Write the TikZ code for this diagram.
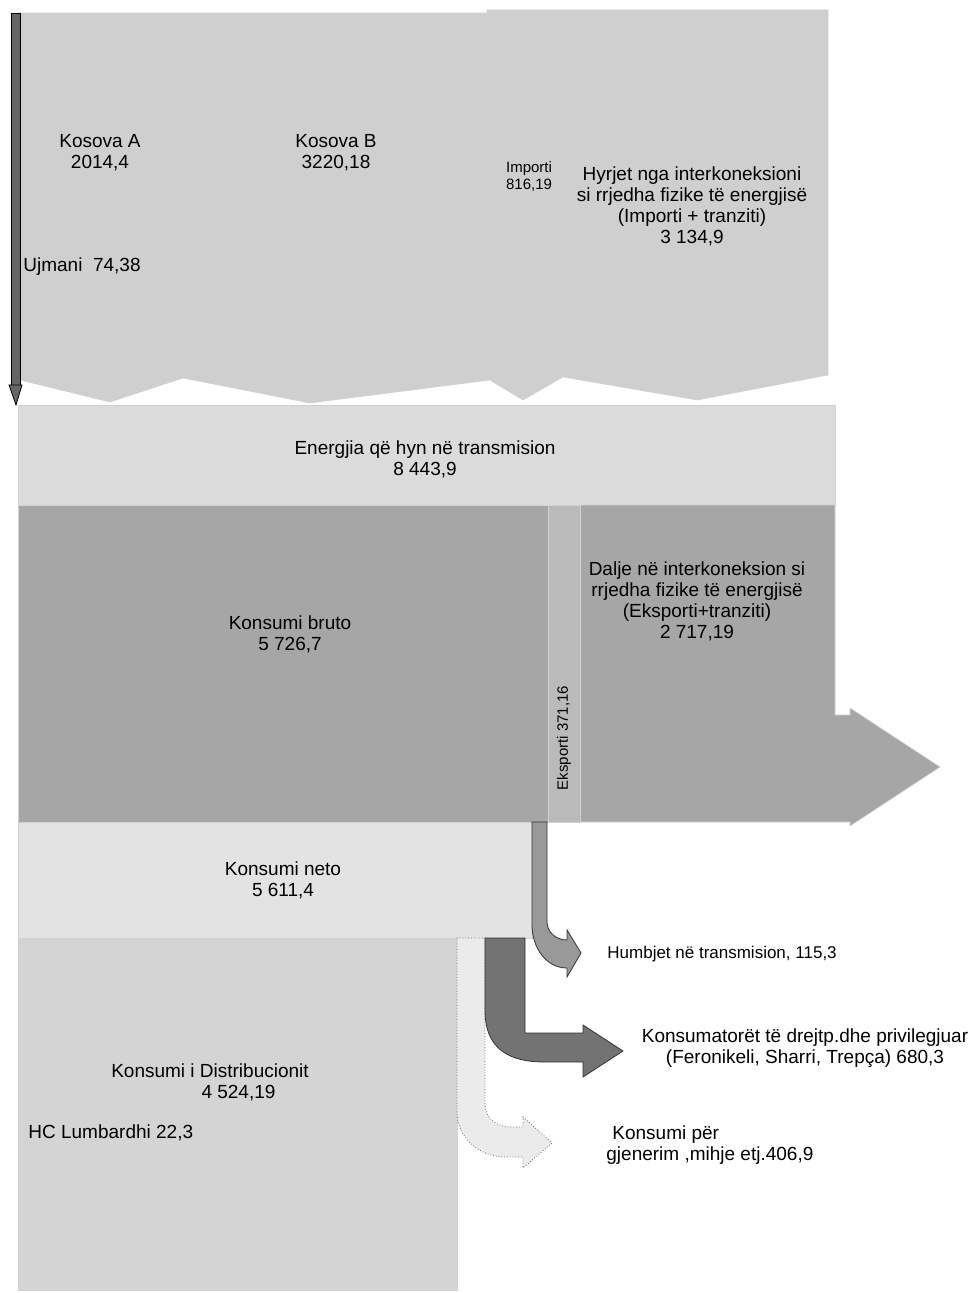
\documentclass[tikz,border=0pt]{standalone}
\usepackage{fontspec}
\setmainfont{Liberation Sans}
\definecolor{srcgray}{gray}{0.81}
\definecolor{trgray}{gray}{0.86}
\definecolor{brutogray}{gray}{0.65}
\definecolor{eksgray}{gray}{0.73}
\definecolor{netogray}{gray}{0.89}
\definecolor{distgray}{gray}{0.83}
\tikzset{
  band/.style={fill=#1, draw=black!18, line width=0.3pt},
  bent/.style={fill=#1, draw=black!80, line width=0.4pt},
  lbl/.style={font=\fontsize{9.5}{10.5}\selectfont, align=center, inner sep=0pt},
  smalllbl/.style={font=\fontsize{7.5}{8.5}\selectfont, align=center, inner sep=0pt},
}
\begin{document}
\begin{tikzpicture}[x=0.5pt,y=-0.5pt]
  \useasboundingbox (0,0) rectangle (975,1293);

  % sources: Kosova A, Kosova B
  \fill[band=srcgray] (18,13) -- (490,13) -- (490,380) -- (310,403) -- (183,378)
      -- (110,402) -- (20,380) -- cycle;
  \draw[black!18, line width=0.3pt] (183,13) -- (183,378);
  % Ujmani
  \fill[fill=black!60, draw=black] (11,13) rectangle (20,385);
  \fill[fill=black!60, draw=black] (9,385) -- (22,385) -- (16,405) -- cycle;
  % interconnection in
  \fill[band=srcgray] (487,10) -- (828,10) -- (828,375) -- (697,400) -- (563,377)
      -- (523,400) -- (485,377) -- cycle;
  \draw[black!18, line width=0.3pt] (563,10) -- (563,377);

  % transmission
  \fill[band=trgray] (18,405) rectangle (835,505);
  \fill[band=brutogray] (18,505) rectangle (548,822);
  \fill[band=brutogray] (580,505) -- (835,505) -- (835,715) -- (850,715) -- (850,708)
      -- (940,767) -- (850,826) -- (850,822) -- (580,822) -- cycle;
  \fill[band=eksgray] (548,505) rectangle (580,822);

  % net and distribution
  \fill[band=netogray] (18,822) rectangle (532,938);
  \fill[band=distgray] (18,938) rectangle (457,1290);

  % losses
  \fill[bent=black!40] (532,822) -- (547,822) -- (547,922) to[out=-90,in=180] (567,940)
      -- (567,930) -- (581,953) -- (567,977) -- (567,968) to[out=180,in=-90] (532,925) -- cycle;
  % own use
  \fill[fill=black!8, draw=black!60, densely dotted] (457,938) -- (485,938) -- (485,1105)
      to[out=-90,in=180] (510,1127) -- (523,1127) -- (523,1117) -- (552,1143) -- (523,1168)
      -- (523,1157) -- (505,1157) to[out=180,in=-90] (457,1112) -- cycle;
  % direct consumers
  \fill[bent=black!55] (485,938) -- (525,938) -- (525,1033) -- (583,1033) -- (583,1025)
      -- (623,1051) -- (583,1077) -- (583,1062) -- (545,1062)
      .. controls (510,1062) and (485,1050) .. (485,1010) -- cycle;

  % labels
  \node[lbl] (kosA) at (100,153) {Kosova A\\2014,4};
  \node[lbl] (kosB) at (336,153) {Kosova B\\3220,18};
  \node[lbl, anchor=west] (ujmani) at (23,267) {Ujmani\ \ 74,38};
  \node[smalllbl] (importi) at (529,177) {Importi\\816,19};
  \node[lbl] (hyrjet) at (692,206) {Hyrjet nga interkoneksioni\\si rrjedha fizike të energjisë\\(Importi + tranziti)\\3 134,9};
  \node[lbl] (energjia) at (425,459) {Energjia që hyn në transmision\\8 443,9};
  \node[lbl] (bruto) at (290,634) {Konsumi bruto\\5 726,7};
  \node[smalllbl, rotate=90] (eksport) at (564,738) {Eksporti 371,16};
  \node[lbl] (dalje) at (697,601) {Dalje në interkoneksion si\\rrjedha fizike të energjisë\\(Eksporti+tranziti)\\2 717,19};
  \node[lbl] (neto) at (283,880) {Konsumi neto\\5 611,4};
  \node[lbl] (distr) at (210,1082) {Konsumi i Distribucionit\\\hspace*{3em}4 524,19};
  \node[lbl, anchor=west] (hc) at (28,1133) {HC Lumbardhi 22,3};
  \node[lbl, font=\fontsize{8.5}{10}\selectfont, anchor=west] (humbjet) at (607,954) {Humbjet në transmision, 115,3};
  \node[lbl] (direkt) at (805,1048) {Konsumatorët të drejtp.dhe privilegjuar\\(Feronikeli, Sharri, Trepça) 680,3};
  \node[lbl, align=left, anchor=west] (gjenerim) at (606,1145) {\hspace*{3pt}Konsumi për\\gjenerim ,mihje etj.406,9};
\end{tikzpicture}
\end{document}
